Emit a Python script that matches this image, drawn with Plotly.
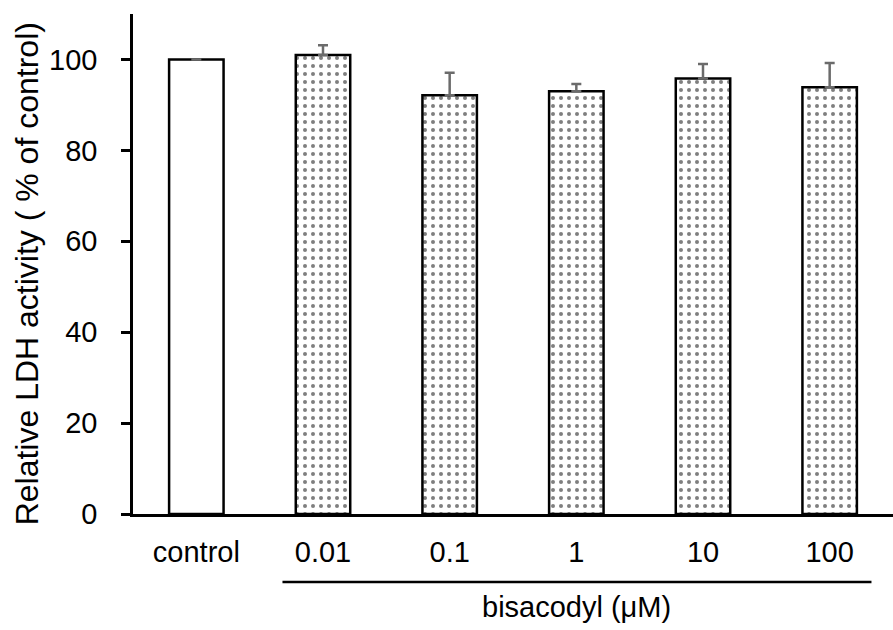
import plotly.graph_objects as go

categories = ["control", "0.01", "0.1", "1", "10", "100"]
values = [100.0, 101.0, 92.1, 93.0, 95.8, 93.9]
errors = [0.0, 2.1, 5.0, 1.6, 3.2, 5.3]
y_ticks = [0, 20, 40, 60, 80, 100]
group_label = "bisacodyl (μM)"
y_title = "Relative LDH activity ( % of control)"

shapes_pattern = ["" if c == "control" else "." for c in categories]

fig = go.Figure()
fig.add_trace(go.Bar(
    x=categories,
    y=values,
    width=0.43,
    marker=dict(
        color="white",
        line=dict(color="black", width=2.5),
        pattern=dict(shape=shapes_pattern, fgcolor="black", bgcolor="white",
                     size=8, solidity=0.2, fillmode="overlay"),
    ),
    error_y=dict(type="data", array=errors, symmetric=False, arrayminus=[0]*6,
                 color="#6b6b6b", thickness=2.5, width=5),
    showlegend=False,
))

font = "Liberation Sans, Arial, sans-serif"
fig.update_layout(
    width=893, height=630,
    margin=dict(l=133, r=0, t=14, b=116),
    plot_bgcolor="white", paper_bgcolor="white",
    font=dict(family=font, size=29, color="black"),
    xaxis=dict(type="category", range=[-0.5, 5.5], showline=True, linecolor="black",
               linewidth=2.5, ticks="", tickfont=dict(size=29), showgrid=False,
               zeroline=False, ticklabelstandoff=10),
    yaxis=dict(range=[0, 110], tickvals=y_ticks, showline=True, linecolor="black",
               linewidth=2.5, ticks="outside", ticklen=9, tickwidth=2.5, tickcolor="black",
               tickfont=dict(size=29), showgrid=False, zeroline=False,
               ticklabelstandoff=18),
    shapes=[dict(type="line", xref="x", yref="paper", x0=0.68, x1=5.33,
                 y0=-0.136, y1=-0.136, line=dict(color="black", width=2.5))],
    annotations=[
        dict(text=group_label, xref="x", yref="paper", x=3.0, y=-0.186,
             showarrow=False, font=dict(size=29), yanchor="middle"),
        dict(text=y_title, xref="paper", yref="paper", x=-0.139, y=0.48,
             xanchor="center", yanchor="middle", textangle=-90,
             showarrow=False, font=dict(size=32)),
    ],
)

fig.write_html("out.html")
